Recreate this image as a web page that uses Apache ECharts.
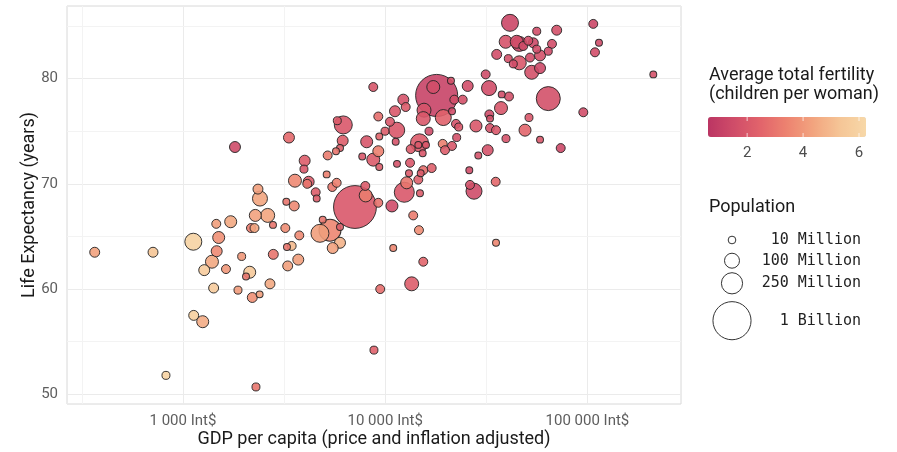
<!DOCTYPE html>
<html>
<head>
<meta charset="utf-8">
<title>Life expectancy vs GDP per capita</title>
<script src="https://cdn.jsdelivr.net/npm/echarts@6/dist/echarts.min.js"></script>
<style>
  html, body { margin: 0; padding: 0; background: #fff; }
  #chart { width: 897px; height: 452px; }
</style>
</head>
<body>
<div id="chart"></div>
<script>
// one value per country, same order in every array
const gdpPerCapita = [
  366, 711, 1125, 1461, 1722, 1502, 1468, 1391, 1274, 1632,
  1951, 2138, 2050, 2797, 2693, 1418, 1871, 2202, 2394, 1130,
  1252, 824, 2296, 2349, 2403, 2279, 2624, 2169, 2258, 2787,
  3244, 3550, 3207, 3295, 3268, 3448, 3717, 3760, 8731, 1808,
  3343, 6206, 5797, 6164, 5978, 5711, 5195, 3998, 3966, 5136,
  3579, 4184, 4117, 4532, 4584, 5475, 5756, 7089, 7973, 8010,
  9245, 5333, 4758, 5978, 5502, 5978, 10960, 15430, 14690, 13760,
  10800, 12430, 12770, 14580, 13270, 11440, 15430, 9245, 10560, 11180,
  12290, 12630, 11400, 9980, 9350, 8100, 11270, 8731, 9245, 7702,
  9350, 17970, 17290, 21150, 21970, 24170, 21400, 19380, 15560, 15430,
  25590, 31410, 32620, 37690, 40960, 37390, 51420, 64060, 28120, 32990,
  35320, 49140, 39570, 58310, 73790, 32140, 28870, 26060, 35200, 27490,
  26270, 35320, 95440, 41420, 56160, 70500, 106900, 114100, 109000, 211800,
  39430, 44700, 46040, 48190, 51020, 54020, 56160, 58310, 64060, 66820,
  46040, 52020, 40630, 35600, 43010, 53030, 58310, 32730, 32990, 22390,
  23100, 22570, 19250, 21400, 19760, 16470, 14780, 14580, 15910, 15330,
  13370, 16980, 14980, 13110, 14860, 9450, 8800, 13520, 4910
];
const lifeExpectancy = [
  63.5, 63.5, 64.5, 66.2, 66.4, 64.9, 63.6, 62.6, 61.8, 61.9,
  63.1, 61.6, 61.2, 63.3, 60.5, 60.1, 59.9, 59.2, 59.5, 57.5,
  56.9, 51.8, 50.7, 69.5, 68.6, 67.0, 67.0, 65.8, 65.8, 66.1,
  68.3, 67.9, 65.8, 62.2, 64.0, 64.1, 62.8, 65.1, 79.2, 73.5,
  74.4, 75.6, 76.0, 74.1, 73.4, 73.1, 72.7, 72.2, 71.4, 70.9,
  70.3, 70.2, 70.0, 69.2, 68.6, 69.7, 70.1, 67.8, 69.8, 68.9,
  68.2, 65.6, 65.3, 64.4, 63.9, 65.9, 63.9, 62.6, 65.6, 67.0,
  67.9, 69.2, 70.1, 70.4, 72.0, 71.9, 71.3, 76.4, 75.9, 76.9,
  78.0, 77.3, 75.1, 75.0, 74.5, 74.0, 74.0, 72.3, 73.1, 72.6,
  71.6, 78.4, 79.2, 79.8, 78.0, 78.0, 76.9, 76.3, 77.0, 76.2,
  79.3, 80.4, 79.1, 78.5, 78.3, 77.2, 76.3, 78.1, 75.5, 75.3,
  75.1, 75.1, 74.3, 74.2, 73.4, 73.2, 72.7, 71.3, 70.2, 69.3,
  69.9, 64.4, 76.8, 85.3, 84.5, 84.6, 85.2, 83.4, 82.5, 80.4,
  83.5, 83.5, 83.3, 83.1, 83.6, 83.4, 82.8, 82.2, 82.6, 83.3,
  81.5, 82.0, 81.9, 82.3, 81.4, 80.6, 81.0, 76.6, 76.2, 75.7,
  75.4, 74.4, 73.8, 73.6, 73.2, 75.0, 73.9, 73.7, 73.7, 72.9,
  73.3, 71.5, 71.0, 71.0, 69.1, 60.0, 54.2, 60.5, 66.6
];
// population in millions
const populationM = [
  28, 28, 141, 19, 52, 52, 39, 66, 39, 19,
  12, 52, 6, 28, 28, 28, 12, 28, 6, 28,
  52, 12, 12, 28, 100, 52, 82, 19, 19, 6,
  6, 28, 19, 28, 6, 19, 39, 19, 19, 39,
  39, 164, 12, 39, 6, 6, 19, 39, 12, 6,
  66, 39, 19, 19, 6, 19, 19, 1300, 19, 66,
  19, 274, 164, 39, 39, 6, 6, 19, 19, 19,
  52, 216, 52, 19, 19, 6, 19, 19, 19, 39,
  39, 19, 120, 12, 6, 52, 6, 66, 39, 6,
  6, 1250, 66, 6, 19, 19, 6, 120, 82, 82,
  39, 19, 100, 6, 19, 66, 12, 340, 52, 19,
  19, 52, 12, 6, 19, 39, 6, 6, 19, 120,
  19, 6, 19, 141, 12, 28, 19, 6, 19, 6,
  66, 66, 100, 19, 19, 28, 12, 39, 12, 19,
  82, 19, 12, 28, 12, 82, 39, 19, 6, 19,
  12, 12, 19, 19, 19, 12, 164, 6, 6, 6,
  19, 19, 6, 6, 6, 19, 12, 82, 6
];
// children per woman
const fertility = [
  4.3, 5.3, 6.0, 4.2, 4.5, 3.8, 3.6, 4.5, 5.6, 4.0,
  4.0, 5.5, 3.0, 3.0, 4.5, 5.6, 4.1, 3.8, 4.2, 5.8,
  4.6, 6.0, 3.0, 4.2, 4.4, 4.3, 4.4, 3.2, 4.4, 3.0,
  3.0, 3.6, 3.7, 4.2, 3.0, 5.0, 4.2, 3.6, 1.9, 1.5,
  2.6, 2.0, 2.1, 2.2, 2.3, 3.0, 3.2, 2.2, 2.0, 3.3,
  3.6, 2.1, 3.0, 2.2, 2.2, 3.1, 3.3, 2.0, 2.1, 3.2,
  2.9, 3.5, 4.2, 4.8, 4.3, 2.3, 3.5, 2.5, 3.7, 3.2,
  1.5, 2.0, 3.0, 2.3, 2.0, 1.8, 2.8, 2.8, 2.0, 2.0,
  1.8, 2.1, 2.0, 2.2, 2.5, 1.9, 1.8, 2.1, 3.3, 2.0,
  2.2, 1.2, 1.6, 1.7, 1.6, 1.7, 1.6, 2.4, 1.8, 2.0,
  1.6, 1.5, 1.6, 1.6, 1.7, 1.9, 2.0, 1.7, 2.0, 1.8,
  2.0, 2.5, 1.8, 2.0, 1.4, 1.8, 1.8, 1.6, 2.6, 1.5,
  1.7, 3.5, 1.6, 1.3, 1.6, 1.7, 1.3, 1.5, 1.6, 1.8,
  1.8, 1.6, 1.3, 1.5, 1.6, 1.4, 1.6, 1.7, 1.5, 1.6,
  2.0, 1.6, 1.7, 1.6, 1.6, 1.7, 1.4, 1.5, 1.7, 1.8,
  2.0, 1.7, 3.3, 2.0, 2.2, 1.5, 2.1, 2.0, 2.0, 2.0,
  2.1, 2.3, 2.1, 2.1, 2.2, 2.8, 2.4, 2.2, 3.0
];

const xTicks = [1000, 10000, 100000];
const yTicks = [50, 60, 70, 80];
const xMinorGrid = [316.2, 3162, 31623];
const yMinorGrid = [55, 65, 75, 85];
const fertilityTicks = [2, 4, 6];
const sizeLegendPop = [10, 100, 250, 1000];
const sizeLegendLabels = ['10 Million', '100 Million', '250 Million', '1 Billion'];

const fertMin = 0.6, fertMax = 6.25;
const fertColors = ['#bb3563', '#d04d69', '#e2646b', '#ed8370', '#f2a47f', '#f5c596', '#f7d8a8'];

// area-scaled bubble diameter, px
const bubbleSize = p => 4.3 + 40 * Math.sqrt(p / 1400);

const isTick = (v, ticks) => ticks.some(t => Math.abs(v - t) / t < 1e-6);
const fmtGdp = v => String(Math.round(v)).replace(/\B(?=(\d{3})+(?!\d))/g, ' ') + ' Int$';

const data = gdpPerCapita
  .map((g, i) => [g, lifeExpectancy[i], populationM[i], fertility[i]])
  .sort((a, b) => b[2] - a[2]);

// legend layout
const cbLeft = 708, cbTop = 117, cbLen = 158, cbThick = 20;
const cbX = v => cbLeft + (v - fertMin) / (fertMax - fertMin) * cbLen;
const sizeLegendY = [240, 260.7, 283.3, 320.7];
const titleFont = '18px Roboto';

const graphic = [
  { type: 'text', x: 709, y: 75, style: { text: 'Average total fertility', font: titleFont, fill: '#1a1a1a', verticalAlign: 'middle' } },
  { type: 'text', x: 709, y: 94, style: { text: '(children per woman)', font: titleFont, fill: '#1a1a1a', verticalAlign: 'middle' } },
  { type: 'text', x: 709, y: 207, style: { text: 'Population', font: titleFont, fill: '#1a1a1a', verticalAlign: 'middle' } }
];
fertilityTicks.forEach(v => {
  graphic.push({
    type: 'text', x: cbX(v), y: 153,
    style: { text: String(v), font: '15px Roboto', fill: '#4d4d4d', align: 'center', verticalAlign: 'middle' }
  });
  graphic.push({ type: 'line', z: 100, shape: { x1: cbX(v), y1: cbTop, x2: cbX(v), y2: cbTop + 4 }, style: { stroke: '#fff', lineWidth: 1, opacity: 0.7 } });
  graphic.push({ type: 'line', z: 100, shape: { x1: cbX(v), y1: cbTop + cbThick - 4, x2: cbX(v), y2: cbTop + cbThick }, style: { stroke: '#fff', lineWidth: 1, opacity: 0.7 } });
});
sizeLegendPop.forEach((p, i) => {
  graphic.push({
    type: 'circle', shape: { cx: 732, cy: sizeLegendY[i], r: bubbleSize(p) / 2 },
    style: { fill: '#fff', stroke: '#333', lineWidth: 1 }
  });
  graphic.push({
    type: 'text', x: 861, y: sizeLegendY[i],
    style: { text: sizeLegendLabels[i], font: '15px "DejaVu Sans Mono"', fill: '#222', align: 'right', verticalAlign: 'middle' }
  });
});

const chart = echarts.init(document.getElementById('chart'));
chart.setOption({
  animation: false,
  textStyle: { fontFamily: 'Roboto' },
  grid: {
    left: 67, top: 6, width: 614, height: 398,
    outerBoundsMode: 'none', containLabel: false,
    show: true, borderColor: '#d9d9d9', borderWidth: 1, backgroundColor: 'transparent'
  },
  xAxis: {
    type: 'log', logBase: 10, min: 267, max: 290300,
    name: 'GDP per capita (price and inflation adjusted)',
    nameLocation: 'middle', nameGap: 26, nameMoveOverlap: false,
    nameTextStyle: { fontSize: 18, color: '#1a1a1a' },
    axisLine: { show: false }, axisTick: { show: false },
    axisLabel: { margin: 10, fontSize: 15, color: '#5e5e5e', formatter: v => isTick(v, xTicks) ? fmtGdp(v) : '' },
    splitLine: { show: true, lineStyle: { color: '#ebebeb', width: 1 } }
  },
  yAxis: {
    type: 'value', min: 49.08, max: 86.9,
    name: 'Life Expectancy (years)',
    nameLocation: 'middle', nameGap: 29, nameMoveOverlap: false,
    nameTextStyle: { fontSize: 18, color: '#1a1a1a' },
    axisLine: { show: false }, axisTick: { show: false },
    axisLabel: { margin: 9, fontSize: 15, color: '#5e5e5e', formatter: v => isTick(v, yTicks) ? String(v) : '' },
    splitLine: { show: true, lineStyle: { color: '#ebebeb', width: 1 } }
  },
  visualMap: {
    type: 'continuous', seriesIndex: 0, dimension: 3,
    min: fertMin, max: fertMax,
    orient: 'horizontal', left: cbLeft, top: cbTop,
    itemWidth: cbThick, itemHeight: cbLen,
    padding: 0, calculable: false, hoverLink: false,
    inRange: { color: fertColors }
  },
  graphic: graphic,
  series: [
    {
      type: 'scatter', z: 3,
      data: data,
      symbolSize: v => bubbleSize(v[2]),
      itemStyle: { borderColor: '#222', borderWidth: 1, opacity: 0.9 },
      emphasis: { disabled: true }
    },
    {
      type: 'line', z: 1, data: [], silent: true,
      markLine: {
        z: 1, silent: true, symbol: ['none', 'none'], label: { show: false },
        lineStyle: { color: '#f3f3f3', width: 1, type: 'solid' },
        data: xMinorGrid.map(v => ({ xAxis: v })).concat(yMinorGrid.map(v => ({ yAxis: v })))
      }
    }
  ]
});
</script>
</body>
</html>
